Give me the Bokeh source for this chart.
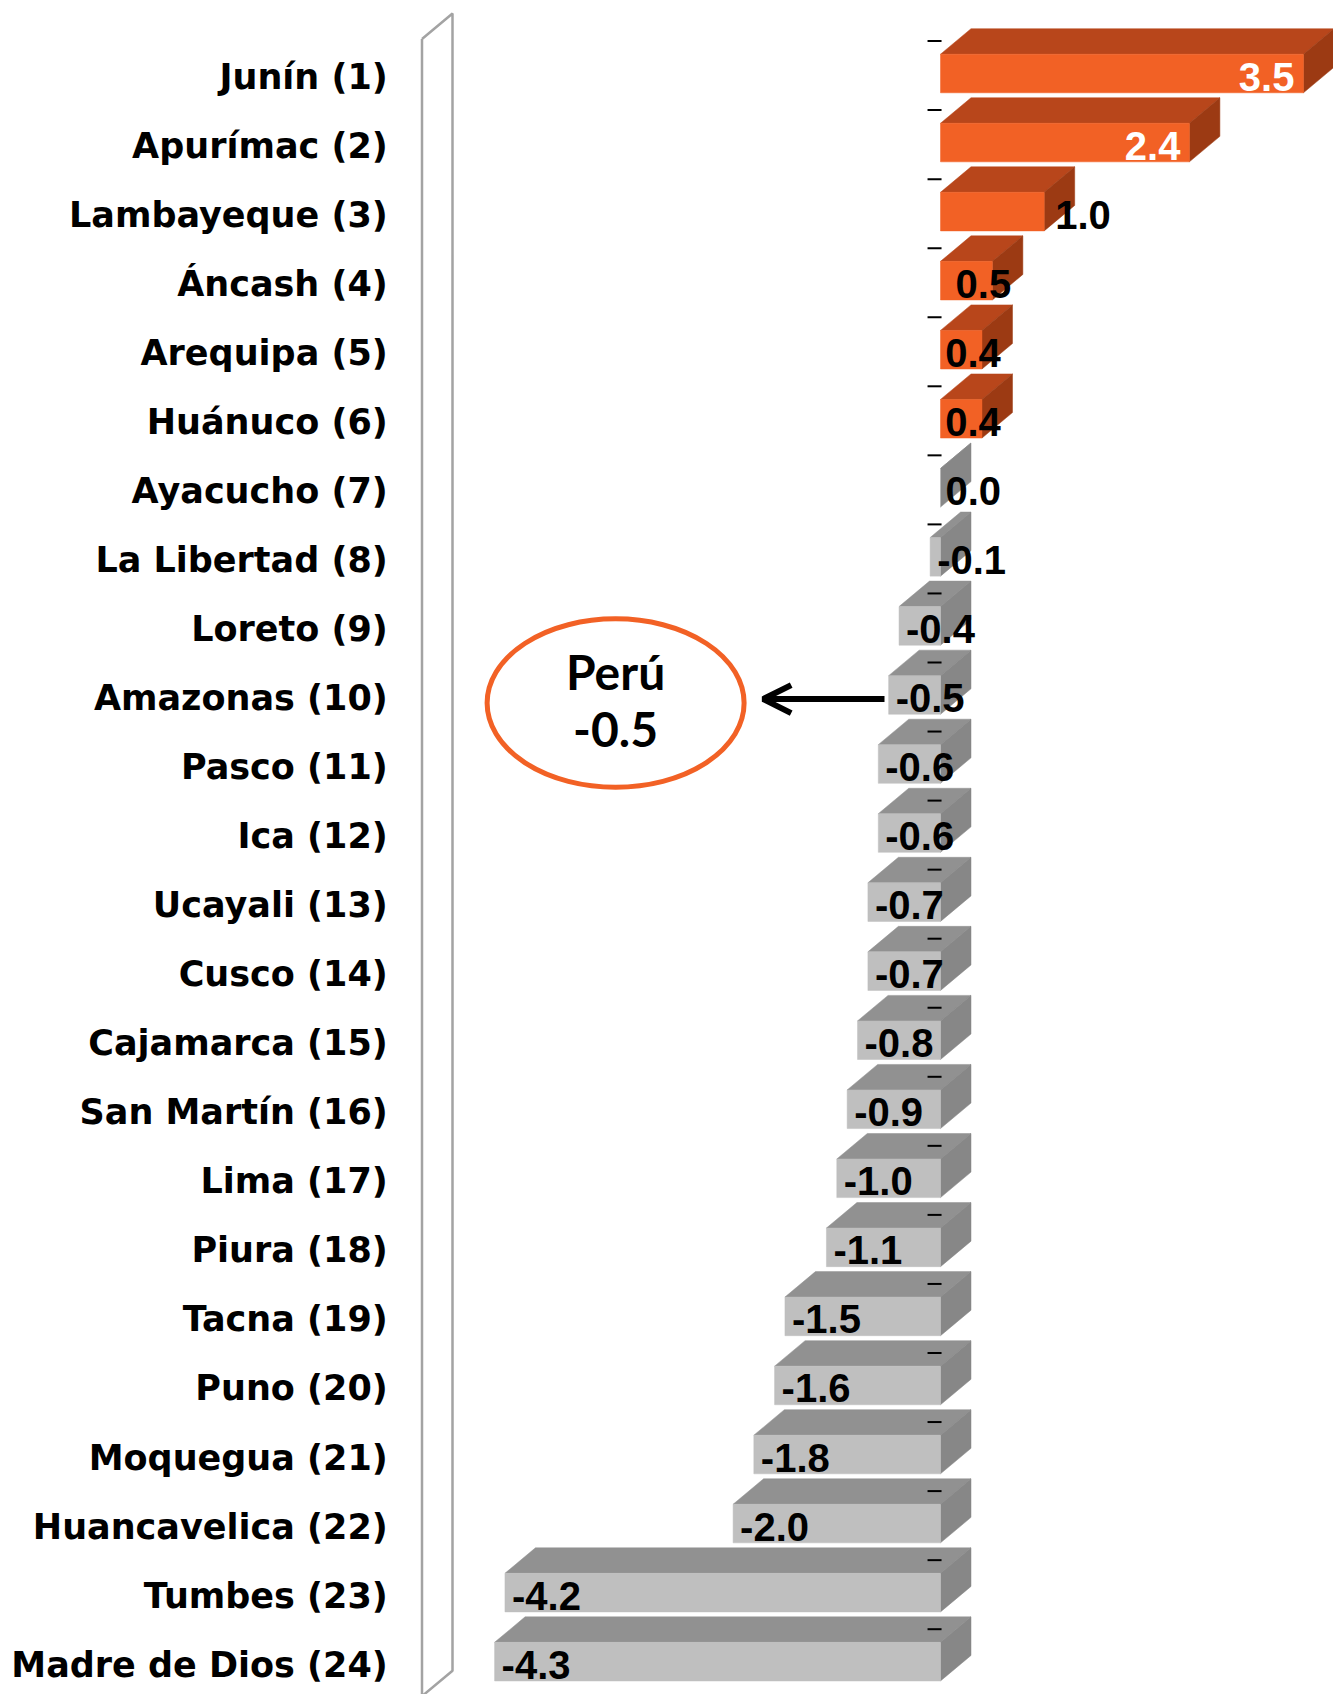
from bokeh.plotting import figure
from bokeh.models import Range1d, Arrow, OpenHead, ColumnDataSource
from bokeh.core.properties import value
from bokeh.embed import file_html
from bokeh.resources import INLINE

# ---------------- data ----------------
regions = ["Junín (1)", "Apurímac (2)", "Lambayeque (3)", "Áncash (4)", "Arequipa (5)",
           "Huánuco (6)", "Ayacucho (7)", "La Libertad (8)", "Loreto (9)", "Amazonas (10)",
           "Pasco (11)", "Ica (12)", "Ucayali (13)", "Cusco (14)", "Cajamarca (15)",
           "San Martín (16)", "Lima (17)", "Piura (18)", "Tacna (19)", "Puno (20)",
           "Moquegua (21)", "Huancavelica (22)", "Tumbes (23)", "Madre de Dios (24)"]
growth = [3.5, 2.4, 1.0, 0.5, 0.4, 0.4, 0.0, -0.1, -0.4, -0.5, -0.6, -0.6,
          -0.7, -0.7, -0.8, -0.9, -1.0, -1.1, -1.5, -1.6, -1.8, -2.0, -4.2, -4.3]
peru_name = "Perú"
peru_value = -0.5
axis_min = -5.0

# ---------------- layout / styles ----------------
W, H = 1333, 1694
PX_PER_UNIT = 103.7
ZERO_PX = 940.0
ROW_PX = 69.05
ROW0_PX = 73.0
DX = 30.5 / PX_PER_UNIT      # 3D depth (x)
DY = 25.5 / ROW_PX           # 3D depth (y)
BH = 38.6 / ROW_PX           # bar thickness

ORANGE = ("#F26125", "#B8461B", "#9C3A13")   # front, top, side
GRAY = ("#BFBFBF", "#919191", "#878787")

x_range = Range1d(-ZERO_PX / PX_PER_UNIT, (W - ZERO_PX) / PX_PER_UNIT)
y_range = Range1d((H - ROW0_PX) / ROW_PX, -ROW0_PX / ROW_PX)

p = figure(width=W, height=H, x_range=x_range, y_range=y_range,
           output_backend="svg", toolbar_location=None,
           x_axis_type=None, y_axis_type=None, min_border=0,
           outline_line_color=None, background_fill_color="white",
           border_fill_color="white")

rows = list(range(len(regions)))

fx, fy, tx, ty, sx, sy, fc, tc, sc = [], [], [], [], [], [], [], [], []
for i, v in zip(rows, growth):
    x0, x1 = min(0.0, v), max(0.0, v)
    yt, yb = i - BH / 2, i + BH / 2
    pal = ORANGE if v > 0 else GRAY
    fx.append([x0, x1, x1, x0]); fy.append([yt, yt, yb, yb])
    tx.append([x0, x1, x1 + DX, x0 + DX]); ty.append([yt, yt, yt - DY, yt - DY])
    sx.append([x1, x1 + DX, x1 + DX, x1]); sy.append([yt, yt - DY, yb - DY, yb])
    fc.append(pal[0]); tc.append(pal[1]); sc.append(pal[2])

p.patches(tx, ty, fill_color=tc, line_color=tc, line_width=0.5)
p.patches(sx, sy, fill_color=sc, line_color=sc, line_width=0.5)
p.patches(fx, fy, fill_color=fc, line_color=fc, line_width=0.5)

# tick marks of the category axis
p.segment(x0=[-0.125] * len(rows), x1=[0.01] * len(rows),
          y0=[r - 0.47 for r in rows], y1=[r - 0.47 for r in rows],
          line_color="black", line_width=2)

# left 3D wall
wall_x = [axis_min, axis_min, axis_min + DX, axis_min + DX, axis_min]
wall_y = [-0.5, len(rows) - 0.5, len(rows) - 0.5 - DY, -0.5 - DY, -0.5]
p.line(wall_x, wall_y, line_color="#a3a3a3", line_width=2.5)

# category labels
p.text(x=[axis_min - 0.33] * len(rows), y=rows, text=regions,
       text_align="right", text_baseline="middle", y_offset=3,
       text_font=value("DejaVu Sans"), text_font_style="bold",
       text_font_size="35px", text_color="black")

# value labels
lx, ly, lt, la, lc, lo = [], [], [], [], [], []
for i, v in zip(rows, growth):
    s = f"{v:.1f}"
    if v >= 2:
        lx.append(v); la.append("right"); lc.append("white"); lo.append(-9)
    elif v >= 0.9:
        lx.append(v); la.append("left"); lc.append("black"); lo.append(11)
    elif v > 0:
        lx.append(v); la.append("center"); lc.append("black"); lo.append(-9)
    elif v == 0:
        lx.append(0.0); la.append("left"); lc.append("black"); lo.append(5)
    else:
        lx.append(v); la.append("left"); lc.append("black"); lo.append(7)
    ly.append(i); lt.append(s)
src = ColumnDataSource(dict(x=lx, y=ly, text=lt, align=la, color=lc, off=lo))
p.text(x="x", y="y", text="text", source=src, text_align="align",
       text_color="color", x_offset="off", y_offset=3, text_baseline="middle",
       text_font=value("Liberation Sans"), text_font_style="bold",
       text_font_size="40px")

# Perú annotation
peru_row = growth.index(peru_value) if peru_value in growth else 9
cx = -3.133
cy = peru_row + 0.117
p.ellipse(x=[cx], y=[cy], width=257 / PX_PER_UNIT, height=168.5 / ROW_PX,
          fill_color=None, line_color=ORANGE[0], line_width=5)
p.text(x=[cx, cx], y=[cy - 0.46, cy + 0.39], text=[peru_name, f"{peru_value:.1f}"],
       text_align="center", text_baseline="middle",
       text_font=value("Lato"), text_font_style="bold",
       text_font_size="48px", text_color="black")
p.add_layout(Arrow(end=OpenHead(size=28, line_width=6, line_color="black"),
                   x_start=peru_value - 0.04, y_start=peru_row + 0.06,
                   x_end=-1.71, y_end=peru_row + 0.06,
                   line_width=6, line_color="black"))

open("out.html", "w").write(file_html(p, INLINE))
